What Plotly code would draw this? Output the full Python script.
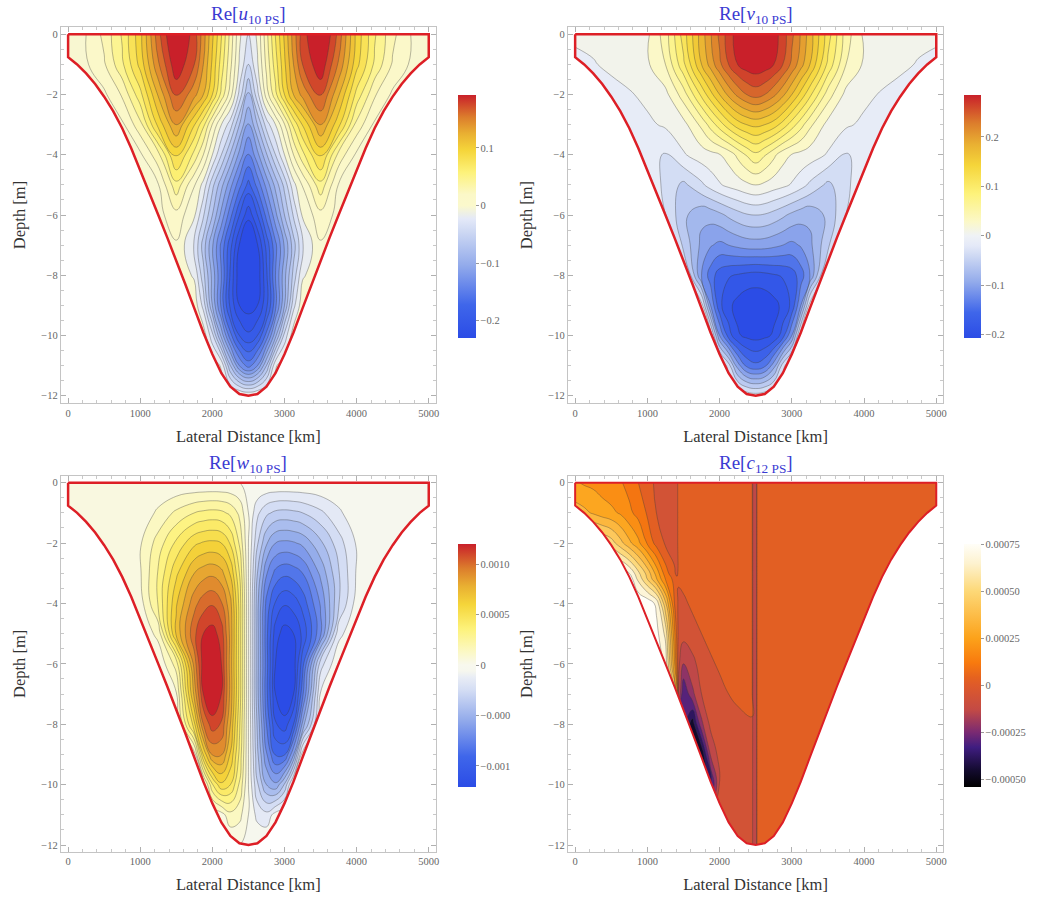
import plotly.graph_objects as go

W, H = 1041, 898

# ---------- basin outline ----------
FLOOR_X = [0,125,250,375,500,625,750,875,1000,1125,1250,1375,1500,1625,1750,1875,2000,2125,2250,2375,2500,
           2625,2750,2875,3000,3125,3250,3375,3500,3625,3750,3875,4000,4125,4250,4375,4500,4625,4750,4875,5000]
FLOOR_Z = [-0.76,-1.0,-1.3,-1.65,-2.07,-2.55,-3.12,-3.78,-4.5,-5.24,-6.0,-6.75,-7.5,-8.3,-9.1,-9.9,-10.62,-11.25,-11.7,-11.94,-12,
           -11.94,-11.7,-11.25,-10.62,-9.9,-9.1,-8.3,-7.5,-6.75,-6.0,-5.24,-4.5,-3.78,-3.12,-2.55,-2.07,-1.65,-1.3,-1.0,-0.76]

# ---------- field grids (estimated from the contour lines) ----------
X = [0,250,500,750,1000,1250,1500,1750,1875,2000,2125,2250,2375,2500,2625,2750,2875,3000,3125,3250,3500,3750,4000,4250,4500,4750,5000]
Z = [0,-1,-2,-3,-4,-5,-6,-7,-8,-9,-10,-11,-12]

U = [
 [.002,.005,.024,.052,.09,.15,.195,.162,.132,.098,.066,.03,-.007,-.025,-.007,.03,.066,.098,.132,.162,.195,.15,.09,.052,.024,.005,.002],
 [.002,.003,.018,.047,.085,.138,.182,.155,.125,.092,.058,.024,-.012,-.04,-.012,.024,.058,.092,.125,.155,.182,.138,.085,.047,.018,.003,.002],
 [0,0,.002,.022,.06,.112,.158,.13,.11,.08,.045,.012,-.03,-.072,-.03,.012,.045,.08,.11,.13,.158,.112,.06,.022,.002,0,0],
 [0,0,0,.002,.03,.085,.125,.081,.054,.019,-.01,-.033,-.07,-.103,-.07,-.033,-.01,.019,.054,.081,.125,.085,.03,.002,0,0,0],
 [0,0,0,0,.002,.03,.085,.045,.02,-.01,-.04,-.072,-.105,-.132,-.105,-.072,-.04,-.01,.02,.045,.085,.03,.002,0,0,0,0],
 [0,0,0,0,0,.004,.045,.006,-.015,-.05,-.08,-.11,-.14,-.165,-.14,-.11,-.08,-.05,-.015,.006,.045,.004,0,0,0,0,0],
 [0,0,0,0,0,0,.015,-.008,-.038,-.07,-.105,-.14,-.175,-.2,-.175,-.14,-.105,-.07,-.038,-.008,.015,0,0,0,0,0,0],
 [0,0,0,0,0,0,.003,-.026,-.062,-.098,-.134,-.17,-.206,-.228,-.206,-.17,-.134,-.098,-.062,-.026,.003,0,0,0,0,0,0],
 [0,0,0,0,0,0,0,-.012,-.05,-.09,-.13,-.178,-.215,-.235,-.215,-.178,-.13,-.09,-.05,-.012,0,0,0,0,0,0,0],
 [0,0,0,0,0,0,0,0,-.03,-.085,-.135,-.18,-.205,-.212,-.205,-.18,-.135,-.085,-.03,0,0,0,0,0,0,0,0],
 [0,0,0,0,0,0,0,0,0,-.035,-.09,-.14,-.175,-.187,-.175,-.14,-.09,-.035,0,0,0,0,0,0,0,0,0],
 [0,0,0,0,0,0,0,0,0,0,-.012,-.07,-.115,-.137,-.115,-.07,-.012,0,0,0,0,0,0,0,0,0,0],
 [0,0,0,0,0,0,0,0,0,0,0,0,-.006,-.01,-.006,0,0,0,0,0,0,0,0,0,0,0,0],
]

V = [
 [-.007,-.006,-.004,-.002,.006,.04,.1,.16,.188,.215,.24,.26,.277,.285,.277,.26,.24,.215,.188,.16,.1,.04,.006,-.002,-.004,-.006,-.007],
 [-.014,-.011,-.007,0,.007,.03,.085,.15,.178,.205,.23,.25,.261,.265,.261,.25,.23,.205,.178,.15,.085,.03,.007,0,-.007,-.011,-.014],
 [-.02,-.018,-.015,-.012,-.005,.004,.04,.095,.123,.15,.175,.195,.21,.218,.21,.195,.175,.15,.123,.095,.04,.004,-.005,-.012,-.015,-.018,-.02],
 [-.02,-.02,-.02,-.018,-.014,-.007,.003,.035,.058,.08,.102,.12,.13,.135,.13,.12,.102,.08,.058,.035,.003,-.007,-.014,-.018,-.02,-.02,-.02],
 [-.02,-.02,-.02,-.02,-.022,-.032,-.012,0,.004,.009,.018,.035,.052,.065,.052,.035,.018,.009,.004,0,-.012,-.032,-.022,-.02,-.02,-.02,-.02],
 [-.015,-.015,-.015,-.015,-.015,-.035,-.055,-.034,-.022,-.012,-.005,0,.006,.01,.006,0,-.005,-.012,-.022,-.034,-.055,-.035,-.015,-.015,-.015,-.015,-.015],
 [-.01,-.01,-.01,-.01,-.01,-.03,-.065,-.085,-.082,-.075,-.066,-.058,-.052,-.05,-.052,-.058,-.066,-.075,-.082,-.085,-.065,-.03,-.01,-.01,-.01,-.01,-.01],
 [0,0,0,0,0,-.01,-.055,-.095,-.108,-.115,-.11,-.105,-.101,-.1,-.101,-.105,-.11,-.115,-.108,-.095,-.055,-.01,0,0,0,0,0],
 [0,0,0,0,0,0,-.01,-.11,-.14,-.16,-.168,-.172,-.176,-.178,-.176,-.172,-.168,-.16,-.14,-.11,-.01,0,0,0,0,0,0],
 [0,0,0,0,0,0,0,-.02,-.11,-.165,-.185,-.197,-.205,-.207,-.205,-.197,-.185,-.165,-.11,-.02,0,0,0,0,0,0,0],
 [0,0,0,0,0,0,0,0,-.015,-.11,-.16,-.187,-.195,-.198,-.195,-.187,-.16,-.11,-.015,0,0,0,0,0,0,0,0],
 [0,0,0,0,0,0,0,0,0,0,-.04,-.1,-.135,-.145,-.135,-.1,-.04,0,0,0,0,0,0,0,0,0,0],
 [0,0,0,0,0,0,0,0,0,0,0,-.005,-.015,-.02,-.015,-.005,0,0,0,0,0,0,0,0,0,0,0],
]

Wf = [
 [0,0,0,0,0,0,0,0,0,0,0,0,0,0,0,0,0,0,0,0,0,0,0,0,0,0,0],
 [.00001,.00001,.00001,.00001,.00002,.00011,.0002,.00027,.00029,.0003,.00029,.00025,.00016,0,-.00016,-.00025,-.00029,-.0003,-.00029,-.00027,-.0002,-.00011,-.00002,-.00001,-.00001,-.00001,-.00001],
 [.00001,.00001,.00001,.00002,.00008,.00022,.00038,.00052,.00055,.00056,.00054,.00044,.00026,0,-.00026,-.00044,-.00054,-.00056,-.00055,-.00052,-.00038,-.00022,-.00008,-.00002,-.00001,-.00001,-.00001],
 [0,0,0,.00001,.00008,.00028,.00052,.00072,.00077,.00079,.00075,.00062,.00036,0,-.00036,-.00062,-.00075,-.00079,-.00077,-.00072,-.00052,-.00028,-.00008,-.00001,0,0,0],
 [0,0,0,0,.00005,.00028,.00062,.00087,.00095,.00098,.00091,.00075,.00042,0,-.00042,-.00075,-.00091,-.00098,-.00095,-.00087,-.00062,-.00028,-.00005,0,0,0,0],
 [0,0,0,0,.00001,.00012,.00065,.00097,.00108,.00112,.00104,.00078,.00042,0,-.00042,-.00078,-.00104,-.00112,-.00108,-.00097,-.00065,-.00012,-.00001,0,0,0,0],
 [0,0,0,0,0,.00001,.00022,.00085,.00113,.0012,.00108,.00077,.00042,0,-.00042,-.00077,-.00108,-.0012,-.00113,-.00085,-.00022,-.00001,0,0,0,0,0],
 [0,0,0,0,0,0,.00008,.00075,.00108,.00118,.00108,.00078,.00042,0,-.00042,-.00078,-.00108,-.00118,-.00108,-.00075,-.00008,0,0,0,0,0,0],
 [0,0,0,0,0,0,0,.00052,.0009,.00104,.00098,.00072,.00038,0,-.00038,-.00072,-.00098,-.00104,-.0009,-.00052,0,0,0,0,0,0,0],
 [0,0,0,0,0,0,0,.00004,.00055,.00082,.00082,.00062,.00034,0,-.00034,-.00062,-.00082,-.00082,-.00055,-.00004,0,0,0,0,0,0,0],
 [0,0,0,0,0,0,0,0,.00003,.00035,.00052,.00045,.00026,0,-.00026,-.00045,-.00052,-.00035,-.00003,0,0,0,0,0,0,0,0],
 [0,0,0,0,0,0,0,0,0,0,.00005,.00015,.00012,0,-.00012,-.00015,-.00005,0,0,0,0,0,0,0,0,0,0],
 [0,0,0,0,0,0,0,0,0,0,0,0,0,0,0,0,0,0,0,0,0,0,0,0,0,0,0],
]

X4 = [0,125,250,375,500,625,750,875,1000,1125,1250,1375,1410,1430,1500,1625,1750,1875,2000,2125,2250,2450,2460,2510,2520,2750,5000]
Z4 = [0,-1,-2,-3,-3.2,-4,-5,-6,-7,-8,-9,-10,-11,-12]
C = [
 [.00025,.00023,.00022,.0002,.00018,.00017,.00013,.00008,.00004,-.00002,-.00003,-.00003,-.00003,.00003,.00003,.00003,.00003,.00003,.00003,.00003,.00003,.00003,-.0001,-.0001,.00003,.00003,.00003],
 [.00036,.00034,.00031,.00028,.00026,.00023,.00018,.00013,.00007,0,-.00003,-.00003,-.00003,.00003,.00003,.00003,.00003,.00003,.00003,.00003,.00003,.00003,-.0001,-.0001,.00003,.00003,.00003],
 [.0006,.0006,.0006,.00057,.00052,.00043,.00034,.00026,.00015,.00005,-.00001,-.00003,-.00003,.00003,.00003,.00003,.00003,.00003,.00003,.00003,.00003,.00003,-.0001,-.0001,.00003,.00003,.00003],
 [.0008,.0008,.0008,.0008,.0008,.0008,.00072,.00058,.00045,.00029,.00012,.00001,-.00002,.00002,.00003,.00003,.00003,.00003,.00003,.00003,.00003,.00003,-.0001,-.0001,.00003,.00003,.00003],
 [.0008,.0008,.0008,.0008,.0008,.0008,.00078,.00062,.00048,.00033,.00016,.00005,.00002,.00001,.00003,.00003,.00003,.00003,.00003,.00003,.00003,.00003,-.0001,-.0001,.00003,.00003,.00003],
 [.0008,.0008,.0008,.0008,.0008,.0008,.0008,.0008,.00078,.0007,.00042,.00008,.00003,-.00002,-.00002,.00002,.00003,.00003,.00003,.00003,.00003,.00003,-.0001,-.0001,.00003,.00003,.00003],
 [.0008,.0008,.0008,.0008,.0008,.0008,.0008,.0008,.0008,.00075,.00062,.00018,.00005,-.00002,-.00005,-.00004,0,.00002,.00003,.00003,.00003,.00003,-.0001,-.0001,.00003,.00003,.00003],
 [.0008,.0008,.0008,.0008,.0008,.0008,.0008,.0008,.0008,.0008,.0007,.00025,.00008,-.00006,-.00016,-.0001,-.00005,-.00001,.00001,.00003,.00003,.00003,-.0001,-.0001,.00003,.00003,.00003],
 [.0008,.0008,.0008,.0008,.0008,.0008,.0008,.0008,.0008,.0008,.0008,.0004,.0002,-.00008,-.00032,-.00018,-.00008,-.00004,-.00002,0,.00002,.00003,-.0001,-.0001,.00003,.00003,.00003],
 [-.0004,-.0004,-.0004,-.0004,-.0004,-.0004,-.0004,-.0004,-.0004,-.0004,-.0004,-.0004,-.0004,-.0004,-.0003,-.00045,-.00018,-.00006,-.00004,-.00003,-.00003,-.00001,-.0001,-.0001,.00003,.00003,.00003],
 [-.0004,-.0004,-.0004,-.0004,-.0004,-.0004,-.0004,-.0004,-.0004,-.0004,-.0004,-.0004,-.0004,-.0004,-.0004,-.00045,-.00048,-.00015,-.00005,-.00003,-.00003,-.00003,-.0001,-.0001,.00003,.00003,.00003],
 [-.0004,-.0004,-.0004,-.0004,-.0004,-.0004,-.0004,-.0004,-.0004,-.0004,-.0004,-.0004,-.0004,-.0004,-.0004,-.0004,-.00045,-.00035,-.00007,-.00004,-.00003,-.00003,-.0001,-.0001,.00003,.00003,.00003],
 [-.00004,-.00004,-.00004,-.00004,-.00004,-.00004,-.00004,-.00004,-.00004,-.00004,-.00004,-.00004,-.00004,-.00004,-.00004,-.00004,-.00004,-.00004,-.00004,-.00003,-.00003,-.00003,-.0001,-.0001,.00003,.00003,.00003],
 [-.00004,-.00004,-.00004,-.00004,-.00004,-.00004,-.00004,-.00004,-.00004,-.00004,-.00004,-.00004,-.00004,-.00004,-.00004,-.00004,-.00004,-.00004,-.00004,-.00003,-.00003,-.00003,-.0001,-.0001,.00003,.00003,.00003],
]

TITLES = ['Re[<i>u</i><sub>10 PS</sub>]','Re[<i>v</i><sub>10 PS</sub>]','Re[<i>w</i><sub>10 PS</sub>]','Re[<i>c</i><sub>12 PS</sub>]']
CB_TICKS = [[.1,0,-.1,-.2],[.2,.1,0,-.1,-.2],[.001,.0005,0,-.0005,-.001],[.00075,.0005,.00025,0,-.00025,-.0005]]
CB_TEXT = [['0.1','0','−0.1','−0.2'],['0.2','0.1','0','−0.1','−0.2'],
           ['0.0010','0.0005','0','−0.000','−0.001'],['0.00075','0.00050','0.00025','0','−0.00025','−0.00050']]

NEG = [(0,'#2b4ce6'),(.25,'#3f66ea'),(.55,'#93abeb'),(.8,'#cdd8f3'),(.9,'#e4e9f8')]
NEG_W = [(0,'#2b4ce6'),(.25,'#3f66ea'),(.55,'#93abeb'),(.8,'#d5def4'),(.9,'#e9edf5'),(.95,'#f6f7ee')]
POS = [(.1,'#fbf8c8'),(.3,'#fdf27a'),(.5,'#f5d53a'),(.65,'#e9b032'),(.8,'#dc7d2c'),(1,'#c9202a')]
HOT = [(0,'#000000'),(.07,'#140b30'),(.163,'#3f1d80'),(.225,'#7a2a72'),(.318,'#c34a45'),(.419,'#de5a2a'),(.45,'#e5621f'),
       (.512,'#f87a0e'),(.612,'#fca21a'),(.806,'#fdd877'),(.92,'#fdf2cf'),(1,'#fffef8')]

def diverging(zmin, zmax, neg, center):
    c = -zmin / (zmax - zmin)
    return ([[f * c, col] for f, col in neg] + [[c, center]] +
            [[c + f * (1 - c), col] for f, col in POS])

LEFT = [(61, 437), (569.5, 946)]
ROWS = [(27, 403), (476, 851.7)]
YR = [(-12.24, .242), (-12.22, .22)]

PANELS = [
 dict(x=X, y=Z, z=U, zmin=-.23, zmax=.192, start=-.205, end=.17, size=.015, col=0, row=0, neg=NEG, center='#fbf9cc', cbx=459, cbw=18, cby=95),
 dict(x=X, y=Z, z=V, zmin=-.207, zmax=.285, start=-.19, end=.25, size=.02, col=1, row=0, neg=NEG, center='#eff2f6', cbx=967, cbw=17, cby=95),
 dict(x=X, y=Z, z=Wf, zmin=-.00121, zmax=.0012, start=-.00108, end=.00108, size=.00009, col=0, row=1, neg=NEG_W, center='#f8f8ee', cbx=459, cbw=18, cby=544),
 dict(x=X4, y=Z4, z=C, zmin=-.00054, zmax=.00075, start=-.00048, end=.00072, size=.00008, col=1, row=1, neg=None, center=None, cbx=967, cbw=17, cby=544),
]

fig = go.Figure()
SERIF = 'Liberation Serif'
layout = dict(width=W, height=H, margin=dict(l=0, r=0, t=0, b=0), paper_bgcolor='white', plot_bgcolor='white',
              showlegend=False, annotations=[])

for i, p in enumerate(PANELS):
    n = '' if i == 0 else str(i + 1)
    xa, ya = 'x' + n, 'y' + n
    xl, xr = LEFT[p['col']]
    yt, yb = ROWS[p['row']]
    cs = diverging(p['zmin'], p['zmax'], p['neg'], p['center']) if p['neg'] else [list(s) for s in HOT]
    fig.add_trace(go.Contour(x=p['x'], y=p['y'], z=p['z'], xaxis=xa, yaxis=ya, colorscale=cs,
                             zmin=p['zmin'], zmax=p['zmax'], showscale=False, hoverinfo='skip',
                             contours=dict(coloring='fill', start=p['start'], end=p['end'], size=p['size']),
                             line=dict(color='rgba(60,60,60,0.4)', width=0.9, smoothing=1.3)))
    fig.add_trace(go.Scatter(x=FLOOR_X + [5030, 5030, -30, -30], y=FLOOR_Z + [-0.76, -12.12, -12.12, -0.76], xaxis=xa, yaxis=ya,
                             mode='lines', line=dict(width=0, color='white'), fill='toself', fillcolor='white',
                             hoverinfo='skip'))
    fig.add_trace(go.Scatter(x=[0] + FLOOR_X + [5000, 0], y=[0] + FLOOR_Z + [0, 0], xaxis=xa, yaxis=ya, mode='lines',
                             line=dict(color='#dd1f26', width=2.0 if i == 3 else 2.5), hoverinfo='skip'))
    fig.add_trace(go.Scatter(x=[None], y=[None], xaxis=xa, yaxis=ya, mode='markers', hoverinfo='skip',
                             marker=dict(color=[0], cmin=p['zmin'], cmax=p['zmax'], colorscale=cs, showscale=True,
                                         colorbar=dict(x=p['cbx'] / W, xanchor='left', y=1 - p['cby'] / H, yanchor='top',
                                                       len=243, lenmode='pixels', thickness=p['cbw'], thicknessmode='pixels',
                                                       xpad=0, ypad=0, outlinewidth=0, tickmode='array',
                                                       tickvals=CB_TICKS[i], ticktext=CB_TEXT[i], ticks='outside', ticklen=3,
                                                       tickcolor='#999', tickfont=dict(family=SERIF, size=10.5, color='#666')))))
    layout['xaxis' + n] = dict(domain=[xl / W, xr / W], range=[-101, 5097], anchor=ya, showline=True, mirror='ticks',
                               linecolor='#c4c4c4', linewidth=1, showgrid=False, zeroline=False, tickmode='linear', tick0=0,
                               dtick=1000, ticks='inside', ticklen=5, tickcolor='#b0b0b0',
                               minor=dict(dtick=200, ticks='inside', ticklen=3, tickcolor='#c8c8c8'),
                               tickfont=dict(family=SERIF, size=10.5, color='#666'),
                               title=dict(text='Lateral Distance [km]', standoff=12, font=dict(family=SERIF, size=16.5, color='#333')))
    layout['yaxis' + n] = dict(domain=[1 - yb / H, 1 - yt / H], range=list(YR[p['row']]), anchor=xa, showline=True, mirror='ticks',
                               linecolor='#c4c4c4', linewidth=1, showgrid=False, zeroline=False, tickmode='linear', tick0=0,
                               dtick=2, ticks='inside', ticklen=5, tickcolor='#b0b0b0',
                               minor=dict(dtick=0.5, ticks='inside', ticklen=3, tickcolor='#c8c8c8'),
                               tickfont=dict(family=SERIF, size=10.5, color='#666'),
                               title=dict(text='Depth [m]', standoff=11, font=dict(family=SERIF, size=16.5, color='#333')))
    layout['annotations'].append(dict(text=TITLES[i], xref='paper', yref='paper', x=(xl + xr) / 2 / W, y=1 - (yt - 12) / H,
                                      xanchor='center', yanchor='middle', showarrow=False,
                                      font=dict(family=SERIF, size=19, color='#3a3ad2')))

fig.update_layout(**layout)
fig.write_html('out.html', post_script="document.body.style.margin='0';", config=dict(displayModeBar=False))
